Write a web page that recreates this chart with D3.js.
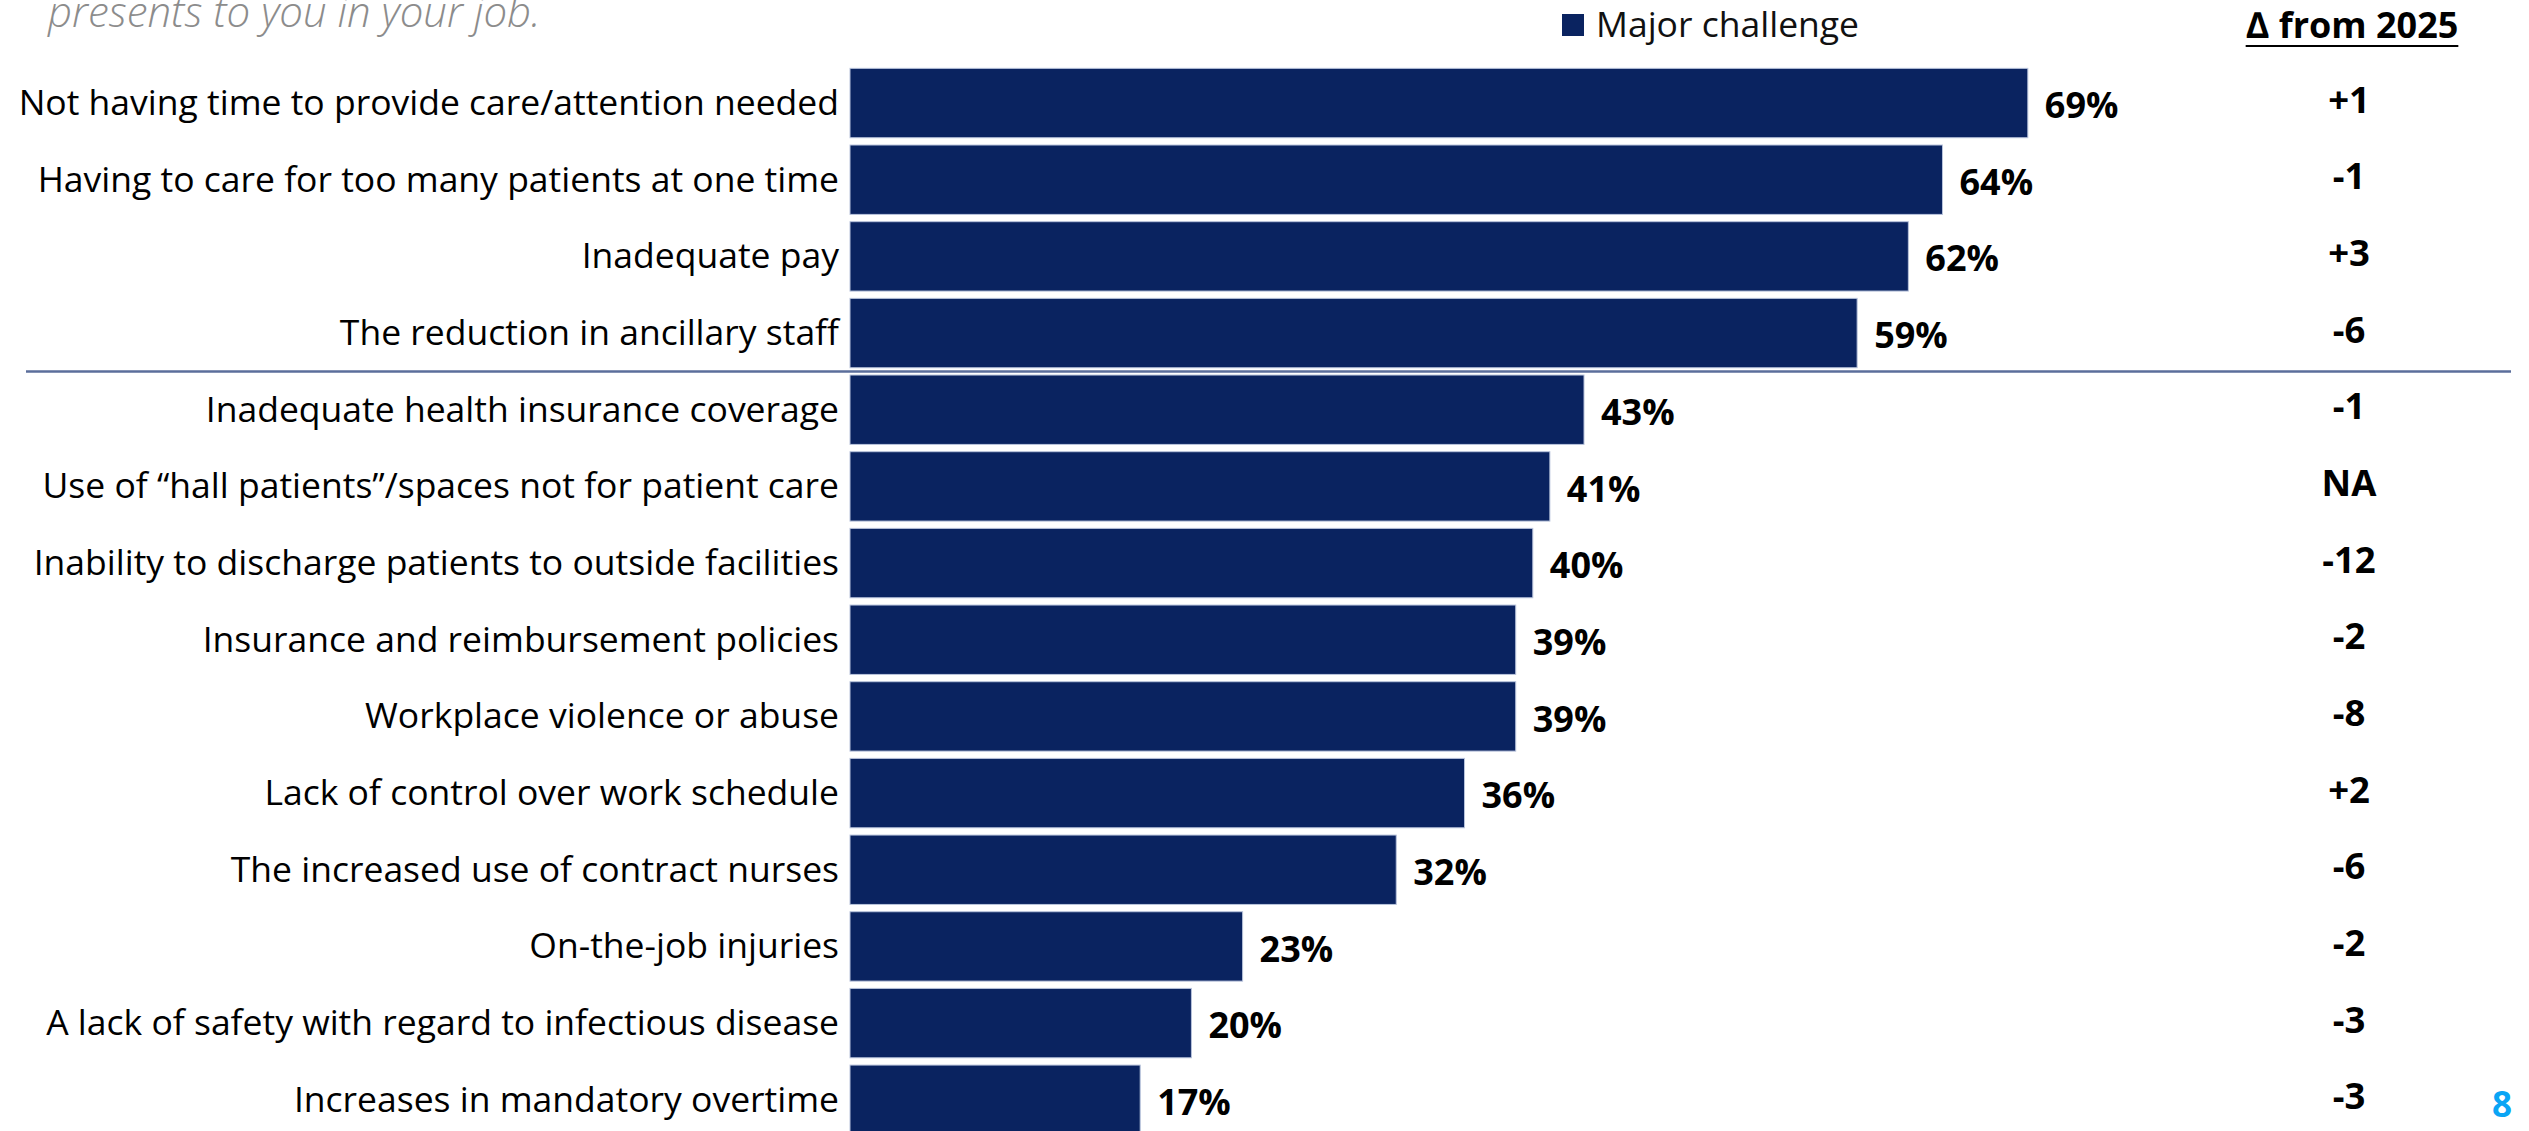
<!DOCTYPE html>
<html>
<head>
<meta charset="utf-8">
<script src="https://cdn.jsdelivr.net/npm/d3@7"></script>
<style>
  html, body { margin: 0; padding: 0; background: #ffffff; overflow: hidden; }
  svg { display: block; font-family: "Segoe UI", "Open Sans", "Noto Sans", sans-serif; }
</style>
</head>
<body>
<svg id="chart" width="2529" height="1131"></svg>
<script>
// Share of nurses rating each issue a major challenge, and change vs. 2025
const categories = [
  "Not having time to provide care/attention needed",
  "Having to care for too many patients at one time",
  "Inadequate pay",
  "The reduction in ancillary staff",
  "Inadequate health insurance coverage",
  "Use of \u201Chall patients\u201D/spaces not for patient care",
  "Inability to discharge patients to outside facilities",
  "Insurance and reimbursement policies",
  "Workplace violence or abuse",
  "Lack of control over work schedule",
  "The increased use of contract nurses",
  "On-the-job injuries",
  "A lack of safety with regard to infectious disease",
  "Increases in mandatory overtime"
];
const majorChallenge = [69, 64, 62, 59, 43, 41, 40, 39, 39, 36, 32, 23, 20, 17];
const changeFrom2025 = ["+1", "-1", "+3", "-6", "-1", "NA", "-12", "-2", "-8", "+2", "-6", "-2", "-3", "-3"];
const seriesName = "Major challenge";
const changeHeader = "\u2206 from 2025";
const subtitleTail = "presents to you in your job.";
const pageNumber = "8";

const navy = "#0A2360";
const svg = d3.select("#chart");

const x = d3.scaleLinear().domain([0, 100]).range([850, 2557]);
const y = d3.scaleBand().domain(categories)
  .range([64.7, 1138.1]).paddingInner(0.095).paddingOuter(0.0475);

const rows = categories.map((c, i) => ({ cat: c, v: majorChallenge[i], d: changeFrom2025[i] }));

// Subtitle fragment running off the top edge
svg.append("text")
  .attr("x", 48).attr("y", 27)
  .attr("font-size", 42).attr("font-style", "italic").attr("font-weight", 300)
  .attr("fill", "#8c8c8c")
  .text(subtitleTail);

// Legend
svg.append("rect").attr("x", 1562).attr("y", 14).attr("width", 22).attr("height", 22).attr("fill", navy);
svg.append("text").attr("x", 1596).attr("y", 37)
  .attr("font-size", 35.5).attr("fill", "#111").text(seriesName);

// Change column header, underlined
const hdr = svg.append("text").attr("x", 2352).attr("y", 38)
  .attr("text-anchor", "middle").attr("font-size", 36).attr("font-weight", 700)
  .attr("fill", "#000").text(changeHeader);
const hb = hdr.node().getBBox();
svg.append("line").attr("x1", hb.x).attr("x2", hb.x + hb.width)
  .attr("y1", 46).attr("y2", 46).attr("stroke", "#000").attr("stroke-width", 2);

// Bars
svg.append("g").selectAll("rect").data(rows).join("rect")
  .attr("x", x(0)).attr("y", d => y(d.cat))
  .attr("width", d => x(d.v) - x(0)).attr("height", y.bandwidth())
  .attr("fill", navy).attr("stroke", "#b9c4dc").attr("stroke-width", 1);

// Divider between the top four and the rest
const divY = (y(categories[3]) + y.bandwidth() + y(categories[4])) / 2;
svg.append("line").attr("x1", 26).attr("x2", 2511)
  .attr("y1", divY).attr("y2", divY)
  .attr("stroke", "#5B6E9B").attr("stroke-width", 2.5);

// Category labels
svg.append("g").selectAll("text").data(rows).join("text")
  .attr("x", 839).attr("y", d => y(d.cat) + y.bandwidth() / 2)
  .attr("dy", "0.34em").attr("text-anchor", "end")
  .attr("font-size", 35.5).attr("fill", "#000").text(d => d.cat);

// Value labels
svg.append("g").selectAll("text").data(rows).join("text")
  .attr("x", d => x(d.v) + 17).attr("y", d => y(d.cat) + y.bandwidth() / 2)
  .attr("dy", "0.42em").attr("font-size", 36).attr("font-weight", 700)
  .attr("fill", "#000").text(d => d.v + "%");

// Change values
svg.append("g").selectAll("text").data(rows).join("text")
  .attr("x", 2349).attr("y", d => y(d.cat) + y.bandwidth() / 2)
  .attr("dy", "0.26em").attr("text-anchor", "middle")
  .attr("font-size", 36.5).attr("font-weight", 700)
  .attr("fill", "#000").text(d => d.d);

// Page number
svg.append("text").attr("x", 2502).attr("y", 1117)
  .attr("text-anchor", "middle").attr("font-size", 35).attr("font-weight", 700)
  .attr("fill", "#0AA5F5").text(pageNumber);
</script>
</body>
</html>
